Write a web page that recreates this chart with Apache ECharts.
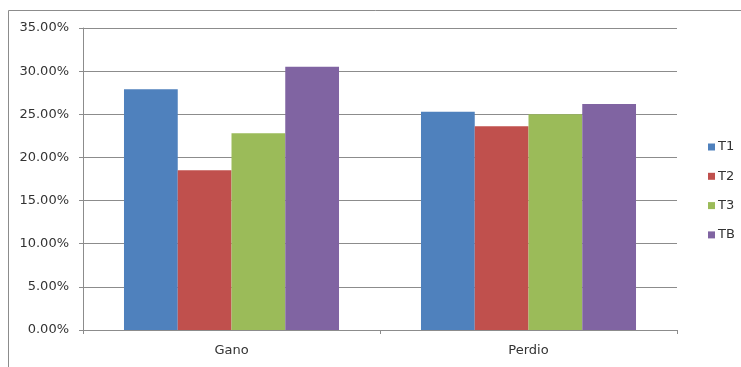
<!DOCTYPE html>
<html>
<head>
<meta charset="utf-8">
<script src="https://cdn.jsdelivr.net/npm/echarts@6/dist/echarts.min.js"></script>
<style>
  html, body { margin: 0; padding: 0; background: #fff; }
  #chart { width: 741px; height: 367px; }
</style>
</head>
<body>
<div id="chart"></div>
<script>
// Outcome categories and the share for each group
const categories = ['Gano', 'Perdio'];
const seriesNames = ['T1', 'T2', 'T3', 'TB'];
const valuesT1 = [0.279, 0.253];
const valuesT2 = [0.185, 0.236];
const valuesT3 = [0.228, 0.250];
const valuesTB = [0.305, 0.262];
const seriesValues = [valuesT1, valuesT2, valuesT3, valuesTB];
const colors = ['#4F81BD', '#C0504D', '#9BBB59', '#8064A2'];

const font = 'DejaVu Sans';
const textColor = '#333333';

const chart = echarts.init(document.getElementById('chart'), null, { renderer: 'canvas' });

chart.setOption({
  animation: false,
  backgroundColor: '#ffffff',
  graphic: [{
    type: 'rect',
    shape: { x: 8.5, y: 10.5, width: 760, height: 400 },
    style: { fill: 'none', stroke: '#8c8c8c', lineWidth: 1 },
    silent: true,
    z: -1
  }],
  grid: { left: 83, right: 64, top: 28, bottom: 37, containLabel: false },
  legend: {
    orient: 'vertical',
    left: 703,
    top: 135,
    itemWidth: 7,
    itemHeight: 7,
    itemGap: 15.3,
    icon: 'rect',
    textStyle: { fontFamily: font, fontSize: 13, color: textColor, lineHeight: 14, padding: [0, 0, 0, -2] },
    data: seriesNames
  },
  xAxis: {
    type: 'category',
    data: categories,
    axisLine: { lineStyle: { color: '#8c8c8c', width: 1 } },
    axisTick: { show: true, length: 4, alignWithLabel: false, lineStyle: { color: '#8c8c8c' } },
    axisLabel: { fontFamily: font, fontSize: 13, color: textColor, margin: 14 }
  },
  yAxis: {
    type: 'value',
    min: 0,
    max: 0.35,
    interval: 0.05,
    axisLine: { show: true, lineStyle: { color: '#8c8c8c', width: 1 } },
    axisTick: { show: true, length: 4, lineStyle: { color: '#8c8c8c' } },
    axisLabel: {
      fontFamily: font, fontSize: 13, color: textColor, margin: 14,
      formatter: v => (v * 100).toFixed(2) + '%'
    },
    splitLine: { show: true, lineStyle: { color: '#8c8c8c', width: 1 } }
  },
  series: seriesNames.map((name, i) => ({
    name: name,
    type: 'bar',
    data: seriesValues[i],
    barGap: '0%',
    barCategoryGap: '27.6%',
    itemStyle: { color: colors[i] }
  }))
});
</script>
</body>
</html>
